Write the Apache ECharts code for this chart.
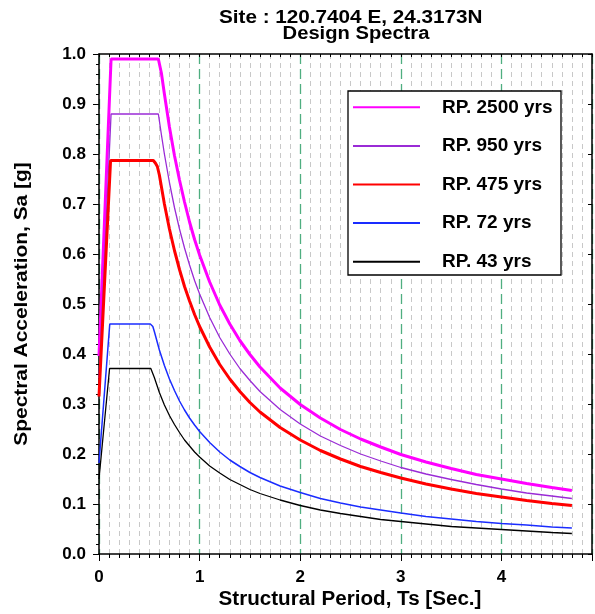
<!DOCTYPE html>
<html>
<head>
<meta charset="utf-8">
<script src="https://cdn.jsdelivr.net/npm/echarts@6/dist/echarts.min.js"></script>
<style>html,body{margin:0;padding:0;background:#fff;}#c{width:595px;height:614px;}</style>
</head>
<body>
<div id="c"></div>
<script>
// ---- data ----
const titleLines = ['Site : 120.7404 E, 24.3173N', 'Design Spectra'];
const xAxisTitle = 'Structural Period, Ts [Sec.]';
const yAxisTitle = 'Spectral Acceleration, Sa [g]';
const seriesNames = ['RP. 2500 yrs', 'RP. 950 yrs', 'RP. 475 yrs', 'RP. 72 yrs', 'RP. 43 yrs'];
const xTicks = [0, 1, 2, 3, 4];
const yTicks = [0.0, 0.1, 0.2, 0.3, 0.4, 0.5, 0.6, 0.7, 0.8, 0.9, 1.0];

// shared periods for the descending branch
const tailPeriods = [0.65, 0.7, 0.75, 0.8, 0.85, 0.9, 0.95, 1.0, 1.1, 1.2, 1.3, 1.4, 1.5, 1.6, 1.8, 2.0, 2.2, 2.4, 2.6, 2.8, 3.0, 3.25, 3.5, 3.75, 4.0, 4.25, 4.5, 4.7];

// RP 2500
const headT2500  = [0, 0.12, 0.59, 0.62];
const headSa2500 = [0.396, 0.99, 0.99, 0.962];
const tailSa2500 = [0.920, 0.854, 0.797, 0.748, 0.704, 0.664, 0.629, 0.598, 0.544, 0.498, 0.460, 0.427, 0.399, 0.374, 0.332, 0.299, 0.272, 0.249, 0.230, 0.214, 0.199, 0.184, 0.171, 0.159, 0.150, 0.141, 0.133, 0.127];
// RP 950
const headT950  = [0, 0.12, 0.59, 0.62];
const headSa950 = [0.352, 0.88, 0.88, 0.839];
const tailSa950 = [0.800, 0.743, 0.693, 0.650, 0.612, 0.578, 0.547, 0.520, 0.473, 0.433, 0.400, 0.371, 0.347, 0.325, 0.289, 0.260, 0.236, 0.217, 0.200, 0.186, 0.173, 0.160, 0.149, 0.139, 0.130, 0.122, 0.116, 0.111];
// RP 475
const headT475  = [0, 0.115, 0.54, 0.56, 0.58, 0.6];
const headSa475 = [0.315, 0.787, 0.787, 0.782, 0.775, 0.758];
const tailSa475 = [0.700, 0.650, 0.607, 0.569, 0.535, 0.506, 0.479, 0.455, 0.414, 0.379, 0.350, 0.325, 0.303, 0.284, 0.253, 0.228, 0.207, 0.190, 0.175, 0.163, 0.152, 0.140, 0.130, 0.121, 0.114, 0.107, 0.101, 0.097];
// RP 72
const headT72  = [0, 0.107, 0.51, 0.535, 0.55, 0.6];
const headSa72 = [0.182, 0.46, 0.46, 0.455, 0.445, 0.408];
const tailSa72 = [0.377, 0.350, 0.327, 0.306, 0.288, 0.272, 0.258, 0.245, 0.223, 0.204, 0.188, 0.175, 0.163, 0.153, 0.136, 0.123, 0.111, 0.102, 0.094, 0.088, 0.082, 0.075, 0.070, 0.065, 0.061, 0.058, 0.054, 0.052];
// RP 43
const headT43  = [0, 0.105, 0.515, 0.55, 0.6];
const headSa43 = [0.15, 0.371, 0.371, 0.353, 0.323];
const tailSa43 = [0.298, 0.277, 0.259, 0.243, 0.228, 0.216, 0.204, 0.194, 0.176, 0.162, 0.149, 0.139, 0.129, 0.121, 0.108, 0.097, 0.088, 0.081, 0.075, 0.069, 0.065, 0.060, 0.055, 0.052, 0.049, 0.046, 0.043, 0.041];

// ---- build ----
function pairs(hT, hS, tS) {
  const out = hT.map((t, i) => [t, hS[i]]);
  tailPeriods.forEach((t, i) => out.push([t, tS[i]]));
  return out;
}
const seriesData = [
  pairs(headT2500, headSa2500, tailSa2500),
  pairs(headT950, headSa950, tailSa950),
  pairs(headT475, headSa475, tailSa475),
  pairs(headT72, headSa72, tailSa72),
  pairs(headT43, headSa43, tailSa43)
];
const colors = ['#ff00ff', '#9a2bd6', '#ff0000', '#1a2cff', '#000000'];
const widths = [3, 1.3, 3, 1.5, 1.3];

const FONT = 'Arial, "Liberation Sans", sans-serif';
const chart = echarts.init(document.getElementById('c'), null, {renderer: 'canvas'});

const option = {
  animation: false,
  backgroundColor: '#ffffff',
  grid: {left: 99, right: 3, top: 54, bottom: 60, containLabel: false},
  xAxis: [{
    type: 'value', min: 0, max: 4.9, interval: 1, position: 'bottom',
    axisLine: {show: true, onZero: false, lineStyle: {color: '#000', width: 1.5}},
    axisTick: {show: true, length: 7, inside: false, lineStyle: {color: '#000', width: 1}},
    minorTick: {show: true, splitNumber: 10, length: 4, lineStyle: {color: '#000', width: 1}},
    axisLabel: {show: true, showMaxLabel: false, margin: 15, fontFamily: FONT, fontWeight: 'bold', fontSize: 17, color: '#000',
      formatter: v => (xTicks.indexOf(v) >= 0 ? String(v) : '')},
    splitLine: {show: true, lineStyle: {color: '#4fae80', width: 1.3, type: [10, 5]}},
    minorSplitLine: {show: true, lineStyle: {color: '#c8c8c8', width: 1, type: [5, 4]}}
  }, {
    type: 'value', min: 0, max: 4.9, interval: 0.1, position: 'top',
    axisLine: {show: true, onZero: false, lineStyle: {color: '#000', width: 1.5}},
    axisTick: {show: true, inside: true, length: 3, lineStyle: {color: '#000', width: 1}},
    axisLabel: {show: false}, splitLine: {show: false}
  }],
  yAxis: [{
    type: 'value', min: 0, max: 1, interval: 0.1, position: 'left',
    axisLine: {show: true, onZero: false, lineStyle: {color: '#000', width: 1.5}},
    axisTick: {show: true, length: 6, inside: false, lineStyle: {color: '#000', width: 1}},
    minorTick: {show: true, splitNumber: 5, length: 3, lineStyle: {color: '#000', width: 1}},
    axisLabel: {show: true, margin: 13, fontFamily: FONT, fontWeight: 'bold', fontSize: 17, color: '#000',
      formatter: v => v.toFixed(1)},
    splitLine: {show: false}
  }, {
    type: 'value', min: 0, max: 1, interval: 0.1, position: 'right',
    axisLine: {show: true, onZero: false, lineStyle: {color: '#000', width: 1.5}},
    axisTick: {show: true, inside: true, length: 4, lineStyle: {color: '#000', width: 1}},
    axisLabel: {show: false}, splitLine: {show: false}
  }],
  legend: {
    show: true, orient: 'vertical', left: 352, top: 97.8, padding: 0,
    itemWidth: 67, itemHeight: 19, itemGap: 19.6,
    data: seriesNames,
    itemStyle: {opacity: 0},
    textStyle: {fontFamily: FONT, fontWeight: 'bold', fontSize: 19, lineHeight: 19, color: '#000', padding: [0, 0, 0, 17]}
  },
  graphic: [
    {type: 'rect', z: 3, shape: {x: 348, y: 91, width: 213, height: 184}, style: {fill: '#fff', stroke: '#000', lineWidth: 1.3}},
    {type: 'text', x: 350.7, y: 18, scaleX: 1.15, style: {text: titleLines[0], font: 'bold 18px ' + FONT, fill: '#000', textAlign: 'center', textVerticalAlign: 'middle'}},
    {type: 'text', x: 356, y: 34, scaleX: 1.12, style: {text: titleLines[1], font: 'bold 18px ' + FONT, fill: '#000', textAlign: 'center', textVerticalAlign: 'middle'}},
    {type: 'text', x: 350, y: 599, scaleX: 1.03, style: {text: xAxisTitle, font: 'bold 20px ' + FONT, fill: '#000', textAlign: 'center', textVerticalAlign: 'middle'}},
    {type: 'text', x: 22, y: 304, rotation: Math.PI / 2, scaleX: 1.1, style: {text: yAxisTitle, font: 'bold 19px ' + FONT, fill: '#000', textAlign: 'center', textVerticalAlign: 'middle'}}
  ],
  series: seriesNames.map((name, i) => ({
    name: name, type: 'line', xAxisIndex: 0, yAxisIndex: 0,
    data: seriesData[i], showSymbol: false, symbol: 'none', smooth: false,
    lineStyle: {color: colors[i], width: widths[i]},
    itemStyle: {color: colors[i]},
    z: 2
  }))
};
chart.setOption(option);
</script>
</body>
</html>
